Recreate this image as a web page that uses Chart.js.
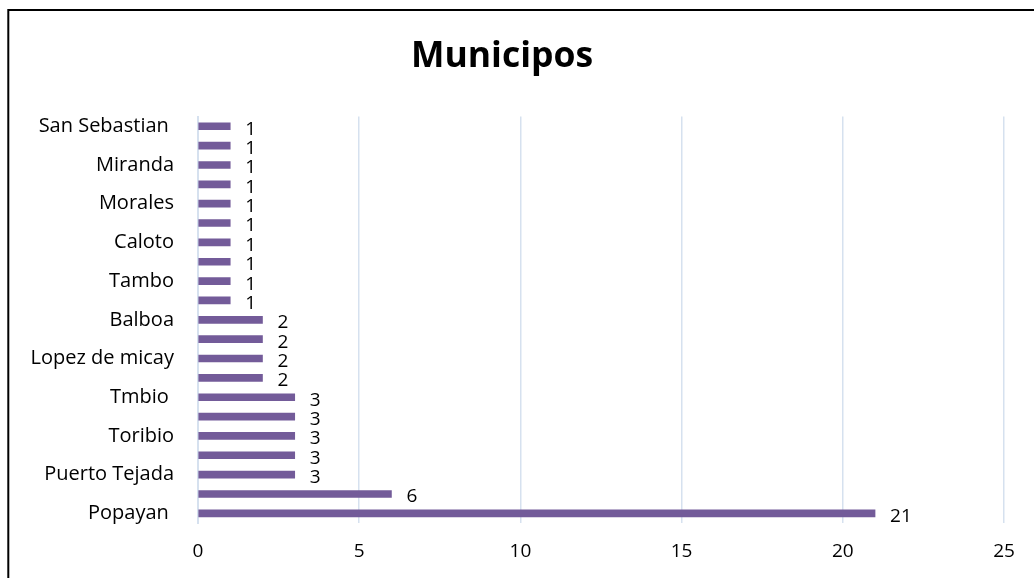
<!DOCTYPE html>
<html>
<head>
<meta charset="utf-8">
<script src="https://cdn.jsdelivr.net/npm/chart.js@4/dist/chart.umd.min.js"></script>
<style>
  html, body { margin: 0; padding: 0; background: #fff; }
  #wrap { width: 1034px; height: 578px; position: relative; }
</style>
</head>
<body>
<div id="wrap"><canvas id="c" width="1034" height="578"></canvas></div>
<script>
// Municipalities (top to bottom); only every other name is labelled on the axis
const municipios = [
  'San Sebastian ', '', 'Miranda', '', 'Morales', '', 'Caloto', '', 'Tambo', '',
  'Balboa', '', 'Lopez de micay', '', 'Tmbio ', '', 'Toribio', '', 'Puerto Tejada', '',
  'Popayan '
];
const cantidades = [1, 1, 1, 1, 1, 1, 1, 1, 1, 1, 2, 2, 2, 2, 3, 3, 3, 3, 3, 6, 21];
const xTicks = [0, 5, 10, 15, 20, 25];
const titulo = 'Municipos';

const FONT = "'Open Sans', 'Liberation Sans', sans-serif";

// Outer frame of the chart box
const framePlugin = {
  id: 'frame',
  afterDraw(chart) {
    const ctx = chart.ctx;
    ctx.save();
    ctx.strokeStyle = '#000';
    ctx.lineWidth = 2;
    ctx.beginPath();
    ctx.moveTo(8.3, 600);
    ctx.lineTo(8.3, 10);
    ctx.lineTo(1040, 10);
    ctx.stroke();
    ctx.restore();
  }
};

// Value labels to the right of each bar
const valueLabels = {
  id: 'valueLabels',
  afterDatasetsDraw(chart) {
    const ctx = chart.ctx;
    const meta = chart.getDatasetMeta(0);
    ctx.save();
    ctx.fillStyle = '#000';
    ctx.font = "19px " + FONT;
    ctx.textAlign = 'left';
    ctx.textBaseline = 'middle';
    meta.data.forEach((bar, i) => {
      ctx.fillText(String(cantidades[i]), bar.x + 15, bar.y + 3);
    });
    ctx.restore();
  }
};

new Chart(document.getElementById('c'), {
  type: 'bar',
  data: {
    labels: municipios,
    datasets: [{
      data: cantidades,
      backgroundColor: (ctx) => {
        const el = ctx.element;
        const c = ctx.chart.ctx;
        if (!el || el.y === undefined) return '#735b99';
        const g = c.createLinearGradient(0, el.y - 4, 0, el.y + 4);
        g.addColorStop(0, '#8a72ad');
        g.addColorStop(0.5, '#715896');
        g.addColorStop(1, '#654d8a');
        return g;
      },
      borderWidth: 0,
      barThickness: 7
    }]
  },
  options: {
    indexAxis: 'y',
    responsive: false,
    animation: false,
    devicePixelRatio: 1,
    layout: { padding: { left: 0, right: 30, top: 0, bottom: 7 } },
    plugins: {
      legend: { display: false },
      tooltip: { enabled: false },
      title: {
        display: true,
        text: titulo,
        color: '#000',
        font: { family: FONT, size: 35.5, weight: 'bold' },
        padding: { top: 36, bottom: 38 }
      }
    },
    scales: {
      x: {
        min: 0,
        max: 25,
        afterBuildTicks(axis) { axis.ticks = xTicks.map(v => ({ value: v })); },
        afterFit(axis) { axis.height = 48; },
        grid: { color: '#d6e1ef', lineWidth: 1.5, drawTicks: false },
        border: { display: false },
        ticks: {
          color: '#000',
          font: { family: FONT, size: 19 },
          padding: 17
        }
      },
      y: {
        afterFit(axis) { axis.width = 198; },
        grid: { display: false, drawTicks: false },
        border: { color: '#d6e1ef', width: 2 },
        ticks: {
          autoSkip: false,
          color: '#000',
          font: { family: FONT, size: 20 },
          padding: 24
        }
      }
    }
  },
  plugins: [framePlugin, valueLabels]
});
</script>
</body>
</html>
